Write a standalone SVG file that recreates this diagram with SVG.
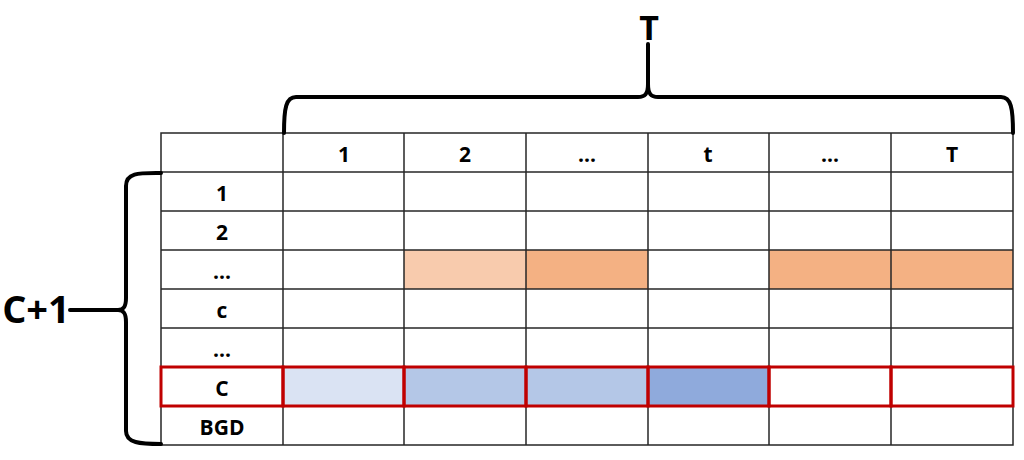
<svg xmlns="http://www.w3.org/2000/svg" width="1024" height="460" viewBox="0 0 1024 460">
<style>
.grid{stroke:#262626;stroke-width:1.5;fill:none}
.red{stroke:#C00000;stroke-width:3;fill:none}
.brace{stroke:#000;stroke-width:4;fill:none;stroke-linecap:round;stroke-linejoin:round}
.lbl{font-family:"Open Sans","Noto Sans",sans-serif;font-weight:bold;font-size:21px;fill:#000;text-anchor:middle;dominant-baseline:central}
.big{font-family:"Open Sans","Noto Sans",sans-serif;font-weight:bold;fill:#000;text-anchor:middle;dominant-baseline:central}
</style>
<rect width="1024" height="460" fill="#fff"/>
<g id="fills">
<rect x="404" y="250" width="122" height="39" fill="#F8CBAD"/>
<rect x="526" y="250" width="122" height="39" fill="#F4B183"/>
<rect x="769" y="250" width="122" height="39" fill="#F4B183"/>
<rect x="891" y="250" width="122" height="39" fill="#F4B183"/>
<rect x="283" y="367" width="121" height="39" fill="#DAE3F3"/>
<rect x="404" y="367" width="122" height="39" fill="#B4C7E7"/>
<rect x="526" y="367" width="122" height="39" fill="#B4C7E7"/>
<rect x="648" y="367" width="121" height="39" fill="#8FAADC"/>
</g>
<g id="table" class="grid">
<rect x="161" y="133" width="852" height="312"/>
<line x1="283" y1="133" x2="283" y2="445"/>
<line x1="404" y1="133" x2="404" y2="445"/>
<line x1="526" y1="133" x2="526" y2="445"/>
<line x1="648" y1="133" x2="648" y2="445"/>
<line x1="769" y1="133" x2="769" y2="445"/>
<line x1="891" y1="133" x2="891" y2="445"/>
<line x1="161" y1="172" x2="1013" y2="172"/>
<line x1="161" y1="211" x2="1013" y2="211"/>
<line x1="161" y1="250" x2="1013" y2="250"/>
<line x1="161" y1="289" x2="1013" y2="289"/>
<line x1="161" y1="328" x2="1013" y2="328"/>
<line x1="161" y1="367" x2="1013" y2="367"/>
<line x1="161" y1="406" x2="1013" y2="406"/>
</g>
<g id="highlight" class="red">
<rect x="161" y="367" width="122" height="39"/>
<rect x="283" y="367" width="121" height="39"/>
<rect x="404" y="367" width="122" height="39"/>
<rect x="526" y="367" width="122" height="39"/>
<rect x="648" y="367" width="121" height="39"/>
<rect x="769" y="367" width="122" height="39"/>
<rect x="891" y="367" width="122" height="39"/>
</g>
<g id="header">
<text class="lbl" x="344" y="154">1</text>
<text class="lbl" x="465" y="154">2</text>
<text class="lbl" x="587" y="154">...</text>
<text class="lbl" x="708" y="154">t</text>
<text class="lbl" x="830" y="154">...</text>
<text class="lbl" x="952" y="154">T</text>
</g>
<g id="rows">
<text class="lbl" x="222" y="193">1</text>
<text class="lbl" x="222" y="232">2</text>
<text class="lbl" x="222" y="271">...</text>
<text class="lbl" x="222" y="310">c</text>
<text class="lbl" x="222" y="349">...</text>
<text class="lbl" x="222" y="388">C</text>
<text class="lbl" x="222" y="427">BGD</text>
</g>
<g id="connectors" class="brace">
<path d="M284,133 C284,108 286,97 296,97 L638,97 C645,97 648,94 648,84 L648,44 M648,84 C648,94 651,97 658,97 L1001,97 C1011,97 1013,108 1013,133"/>
<path d="M161,173 C140,173 126,172 126,186 L126,298 C126,306 124,310 118,310 C124,310 126,314 126,322 L126,431 C126,443 140,444 161,444"/>
<line x1="70" y1="310" x2="118" y2="310"/>
</g>
<g id="labels">
<text class="big" x="649" y="27" font-size="34">T</text>
<text class="big" x="36" y="308" font-size="38">C+1</text>
</g>
</svg>
